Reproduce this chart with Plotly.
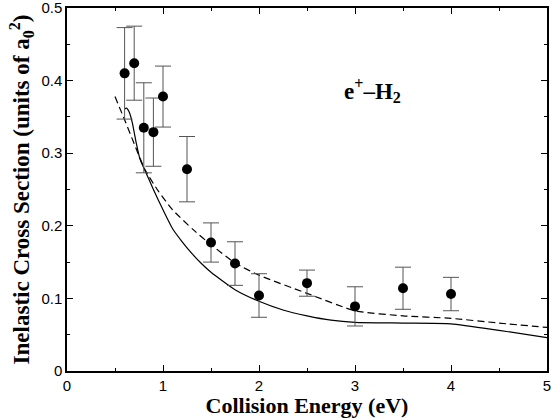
import plotly.graph_objects as go

# Experimental data
exp_x = [0.6, 0.7, 0.8, 0.9, 1.0, 1.25, 1.5, 1.75, 2.0, 2.5, 3.0, 3.5, 4.0]
exp_y = [0.410, 0.424, 0.335, 0.329, 0.378, 0.278, 0.177, 0.148, 0.104, 0.121, 0.089, 0.114, 0.106]
exp_err = [0.063, 0.051, 0.062, 0.047, 0.042, 0.045, 0.027, 0.030, 0.030, 0.018, 0.027, 0.029, 0.023]

# Theory curve (solid)
solid_x = [0.6, 0.62, 0.65, 0.68, 0.72, 0.76, 0.81, 0.9, 1.0, 1.1, 1.2, 1.3, 1.4, 1.5, 1.75, 2.0, 2.25, 2.5, 2.75, 3.0, 3.5, 4.0, 4.5, 5.0]
solid_y = [0.361, 0.362, 0.356, 0.342, 0.315, 0.292, 0.277, 0.250, 0.222, 0.196, 0.178, 0.162, 0.148, 0.136, 0.112, 0.096, 0.084, 0.076, 0.070, 0.067, 0.066, 0.065, 0.056, 0.046]

# Theory curve (dashed)
dash_x = [0.5, 0.6, 0.7, 0.81, 0.95, 1.1, 1.32, 1.5, 1.75, 2.0, 2.5, 3.0, 3.5, 4.0, 4.5, 5.0]
dash_y = [0.378, 0.346, 0.313, 0.278, 0.248, 0.222, 0.194, 0.174, 0.149, 0.132, 0.107, 0.083, 0.076, 0.0725, 0.066, 0.060]

fig = go.Figure()
fig.add_trace(go.Scatter(x=solid_x, y=solid_y, mode="lines", line=dict(color="black", width=1.2, shape="spline", smoothing=0.5), showlegend=False))
fig.add_trace(go.Scatter(x=dash_x, y=dash_y, mode="lines", line=dict(color="black", width=1.2, dash="7px,4px", shape="spline", smoothing=0.6), showlegend=False))
fig.add_trace(go.Scatter(
    x=exp_x, y=exp_y, mode="markers",
    marker=dict(color="black", size=10),
    error_y=dict(type="data", array=exp_err, visible=True, color="#555555", thickness=1, width=8),
    showlegend=False))

fig.add_annotation(x=3.18, y=0.387, xref="x", yref="y",
                   text="<b>e<sup>+</sup>\u2013H<sub>2</sub></b>", showarrow=False,
                   font=dict(family="Liberation Serif", size=23, color="black"))

axis_common = dict(showline=True, linecolor="black", linewidth=1.5, mirror="allticks",
                   ticks="inside", ticklen=6, tickcolor="black", showgrid=False, zeroline=False,
                   automargin=False, ticklabeloverflow="allow",
                   tickfont=dict(family="Liberation Sans", size=15, color="black"))

fig.update_xaxes(range=[0, 5], dtick=1, tick0=0,
                 minor=dict(dtick=0.5, ticks="inside", ticklen=3, tickcolor="black"),
                 title=dict(text="<b>Collision Energy (eV)</b>", font=dict(family="Liberation Serif", size=22, color="black"), standoff=0),
                 **axis_common)
fig.update_yaxes(range=[0, 0.5], dtick=0.1, tick0=0,
                 minor=dict(dtick=0.05, ticks="inside", ticklen=3, tickcolor="black"),
                 title=dict(text="<b>Inelastic Cross Section (units of a<sub>0</sub><sup>2</sup>)</b>", font=dict(family="Liberation Serif", size=23, color="black"), standoff=5),
                 **axis_common)

fig.update_layout(width=551, height=418, margin=dict(l=67, r=4, t=8, b=47),
                  plot_bgcolor="white", paper_bgcolor="white")
fig.write_html("out.html", config={"displayModeBar": False},
               post_script="document.body.style.margin='0';document.body.style.overflow='hidden';")
